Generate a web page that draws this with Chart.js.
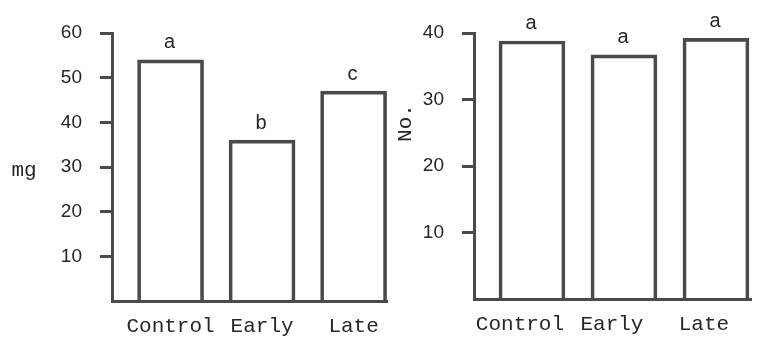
<!DOCTYPE html>
<html>
<head>
<meta charset="utf-8">
<script src="https://cdn.jsdelivr.net/npm/chart.js@4"></script>
<style>
  html, body { margin:0; padding:0; background:#fff; }
  #wrap { position:relative; width:760px; height:349px; }
  canvas { position:absolute; left:0; top:0; }
</style>
</head>
<body>
<div id="wrap">
  <canvas id="left" width="760" height="349"></canvas>
  <canvas id="right" width="760" height="349"></canvas>
</div>
<script>
// ---- data ----
const categories   = ['Control', 'Early', 'Late'];
const massValues   = [54, 36, 47];          // mg
const massLetters  = ['a', 'b', 'c'];
const massTicks    = [10, 20, 30, 40, 50, 60];
const countValues  = [38.8, 36.7, 39.2];    // No.
const countLetters = ['a', 'a', 'a'];
const countTicks   = [10, 20, 30, 40];

// ---- style ----
const LINE = '#4a4a4a';
const TEXT = '#262626';
const MONO = '"Courier New", "Liberation Mono", monospace';
const SANS = '"Liberation Sans", Arial, sans-serif';

const annotate = {
  id: 'annotate',
  afterDatasetsDraw(chart, args, opts) {
    const ctx = chart.ctx;
    const meta = chart.getDatasetMeta(0);
    ctx.save();
    ctx.fillStyle = TEXT;
    ctx.font = '20px ' + SANS;
    ctx.textAlign = 'center';
    ctx.textBaseline = 'middle';
    meta.data.forEach((bar, i) => {
      ctx.fillText(opts.letters[i], bar.x - 1, bar.y - 17);
    });
    // axis title
    const ys = chart.scales.y;
    ctx.font = '21px ' + MONO;
    ctx.fillStyle = TEXT;
    if (opts.rotated) {
      ctx.translate(ys.left + opts.titleDx, chart.chartArea.top + opts.titleDy);
      ctx.rotate(-Math.PI / 2);
      ctx.textBaseline = 'middle';
      ctx.fillText(opts.title, 0, 0);
    } else {
      ctx.textBaseline = 'alphabetic';
      ctx.fillText(opts.title, ys.left + opts.titleDx, chart.chartArea.top + opts.titleDy);
    }
    ctx.restore();
  }
};

function makeChart(id, values, letters, yTicks, yMax, xMin, xMax, pad, yWidth, xHeight, labelOffset, title) {
  return new Chart(document.getElementById(id), {
    type: 'bar',
    data: {
      datasets: [{
        data: categories.map((c, i) => ({ x: i, y: values[i] })),
        backgroundColor: 'rgba(255,255,255,0)',
        borderColor: LINE,
        borderWidth: 3,
        borderSkipped: 'bottom',
        barThickness: 66
      }]
    },
    options: {
      responsive: false,
      animation: false,
      devicePixelRatio: 1,
      layout: { padding: pad },
      plugins: {
        legend: { display: false },
        tooltip: { enabled: false },
        annotate: Object.assign({ letters: letters }, title)
      },
      scales: {
        x: {
          type: 'linear',
          offset: false,
          min: xMin, max: xMax,
          afterBuildTicks: s => { s.ticks = categories.map((c, i) => ({ value: i })); },
          afterFit: s => { s.height = xHeight; },
          grid: { display: true, offset: false, drawOnChartArea: false, drawTicks: false },
          border: { display: true, color: LINE, width: 3 },
          ticks: {
            callback: v => categories[v],
            font: { family: MONO, size: 21 },
            color: TEXT,
            padding: 13,
            labelOffset: labelOffset,
            autoSkip: false,
            maxRotation: 0
          }
        },
        y: {
          min: 0, max: yMax,
          afterBuildTicks: s => { s.ticks = yTicks.map(v => ({ value: v })); },
          afterFit: s => { s.width = yWidth; },
          grid: { drawOnChartArea: false, drawTicks: true, tickLength: 12, color: LINE, lineWidth: 3 },
          border: { display: true, color: LINE, width: 3 },
          ticks: { font: { family: SANS, size: 19 }, color: TEXT, padding: 18 }
        }
      }
    },
    plugins: [annotate]
  });
}

makeChart('left', massValues, massLetters, massTicks, 60, -0.64, 2.365,
  { left: 0, top: 33, right: 373, bottom: 0 }, 112, 48, 0,
  { title: 'mg', rotated: false, titleDx: 24, titleDy: 143 });

makeChart('right', countValues, countLetters, countTicks, 40, -0.63, 2.381,
  { left: 380, top: 33, right: 9, bottom: 0 }, 94, 50, -12,
  { title: 'No.', rotated: true, titleDx: 25, titleDy: 90 });
</script>
</body>
</html>
